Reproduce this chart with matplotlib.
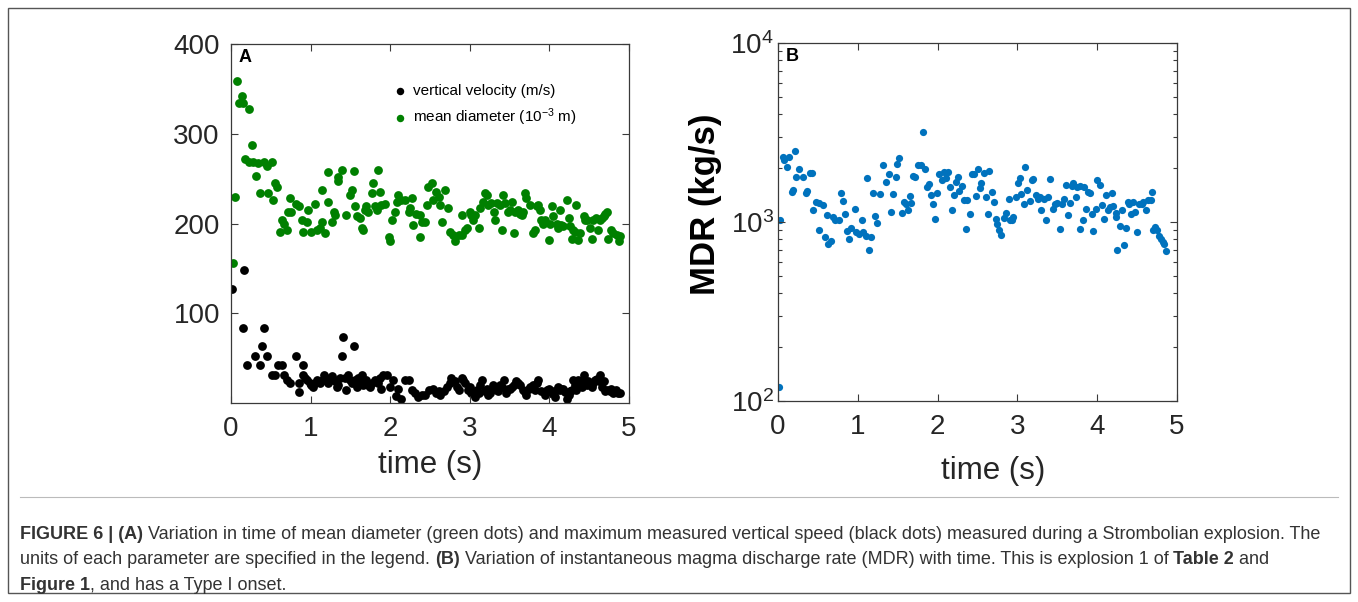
import matplotlib
matplotlib.use("Agg")
import matplotlib.pyplot as plt
from matplotlib import font_manager
from matplotlib.patches import Rectangle
from matplotlib.lines import Line2D

plt.rcParams['font.family'] = ['Liberation Sans', 'DejaVu Sans']
plt.rcParams['mathtext.default'] = 'regular'

# ---- panel A: mean diameter (green) ----
diam_t = [0.02, 0.05, 0.08, 0.10, 0.135, 0.15, 0.175, 0.22, 0.23, 0.26, 0.28, 0.315, 0.34, 0.36, 0.41,
          0.45, 0.47, 0.51, 0.53, 0.55, 0.58, 0.61, 0.64, 0.66, 0.70, 0.72, 0.74, 0.76, 0.82, 0.85,
          0.89, 0.91, 0.95, 0.97, 1.01, 1.06, 1.08, 1.12, 1.14, 1.14, 1.18, 1.216, 1.22, 1.27, 1.29,
          1.31, 1.34, 1.35, 1.39, 1.45, 1.49, 1.52, 1.54, 1.56, 1.58, 1.62, 1.64, 1.66, 1.68, 1.70,
          1.72, 1.77, 1.79, 1.81, 1.83, 1.85, 1.87, 1.89, 1.94, 1.98, 2.00, 2.02, 2.06, 2.08, 2.10,
          2.14, 2.19, 2.23, 2.25, 2.27, 2.29, 2.33, 2.37, 2.37, 2.40, 2.44, 2.46, 2.48, 2.52, 2.54,
          2.58, 2.61, 2.63, 2.65, 2.69, 2.73, 2.75, 2.79, 2.81, 2.86, 2.90, 2.90, 2.94, 2.96, 3.00,
          3.02, 3.04, 3.07, 3.11, 3.13, 3.17, 3.19, 3.21, 3.23, 3.27, 3.30, 3.32, 3.34, 3.38, 3.40,
          3.42, 3.44, 3.48, 3.51, 3.53, 3.55, 3.57, 3.61, 3.63, 3.65, 3.67, 3.69, 3.71, 3.76, 3.80,
          3.82, 3.84, 3.86, 3.88, 3.90, 3.92, 3.94, 3.99, 4.01, 4.03, 4.05, 4.09, 4.11, 4.13, 4.15,
          4.17, 4.22, 4.24, 4.26, 4.28, 4.30, 4.32, 4.34, 4.36, 4.38, 4.43, 4.45, 4.47, 4.51, 4.53,
          4.55, 4.59, 4.61, 4.64, 4.66, 4.68, 4.70, 4.72, 4.74, 4.78, 4.80, 4.85, 4.87, 4.89]
diam_v = [156, 229, 359, 334, 342, 334, 272, 269, 328, 287, 268, 253, 267, 234, 269,
          264, 234, 268, 226, 245, 241, 191, 204, 200, 193, 213, 228, 213, 222, 219,
          204, 190, 202, 215, 191, 222, 193, 195, 202, 237, 189, 257, 224, 202, 213,
          210, 247, 252, 260, 210, 232, 237, 258, 219, 208, 206, 195, 193, 215, 219,
          213, 234, 245, 219, 215, 260, 235, 221, 222, 185, 180, 204, 213, 224, 232,
          226, 226, 213, 217, 228, 198, 211, 210, 185, 202, 202, 221, 241, 245, 226,
          235, 230, 221, 202, 237, 217, 191, 187, 180, 187, 187, 210, 193, 195, 213,
          210, 204, 210, 195, 217, 224, 234, 232, 221, 223, 213, 204, 223, 221, 193,
          232, 223, 213, 215, 224, 189, 213, 215, 211, 210, 213, 234, 228, 221, 189,
          193, 219, 221, 215, 204, 200, 204, 182, 200, 219, 208, 200, 195, 215, 198,
          197, 226, 206, 197, 183, 193, 191, 221, 182, 189, 208, 204, 204, 195, 183,
          204, 206, 193, 204, 206, 208, 211, 213, 183, 193, 189, 187, 180, 186]

# ---- panel A: vertical velocity (black) ----
vel_t = [0.01, 0.155, 0.16, 0.205, 0.30, 0.365, 0.385, 0.41, 0.45, 0.51,
         0.55, 0.59, 0.64, 0.66, 0.70, 0.74, 0.82, 0.85, 0.86, 0.90,
         0.91, 0.93, 0.95, 0.99, 1.01, 1.03, 1.05, 1.08, 1.10, 1.12,
         1.15, 1.17, 1.20, 1.22, 1.24, 1.27, 1.29, 1.31, 1.33, 1.35,
         1.37, 1.40, 1.41, 1.43, 1.45, 1.47, 1.50, 1.52, 1.55, 1.56,
         1.58, 1.60, 1.62, 1.64, 1.66, 1.68, 1.70, 1.72, 1.75, 1.77,
         1.81, 1.83, 1.85, 1.87, 1.89, 1.91, 1.96, 2.00, 2.04, 2.07,
         2.10, 2.14, 2.19, 2.23, 2.27, 2.31, 2.35, 2.40, 2.44, 2.49,
         2.54, 2.58, 2.61, 2.63, 2.67, 2.71, 2.75, 2.77, 2.81, 2.84,
         2.86, 2.90, 2.92, 2.94, 2.98, 3.00, 3.02, 3.07, 3.09, 3.11,
         3.13, 3.15, 3.19, 3.21, 3.23, 3.25, 3.27, 3.29, 3.32, 3.34,
         3.36, 3.38, 3.40, 3.43, 3.46, 3.48, 3.51, 3.53, 3.55, 3.58,
         3.61, 3.63, 3.67, 3.69, 3.71, 3.74, 3.76, 3.79, 3.82, 3.84,
         3.86, 3.90, 3.94, 3.97, 3.99, 4.01, 4.03, 4.07, 4.09, 4.11,
         4.13, 4.15, 4.17, 4.19, 4.22, 4.24, 4.26, 4.28, 4.30, 4.32,
         4.34, 4.36, 4.38, 4.41, 4.43, 4.45, 4.47, 4.49, 4.53, 4.55,
         4.57, 4.60, 4.62, 4.64, 4.66, 4.68, 4.70, 4.72, 4.76, 4.78,
         4.80, 4.84, 4.86, 4.89]
vel_v = [127, 84, 148, 42, 52, 42, 64, 84, 52, 31,
         31, 42, 42, 31, 26, 22, 52, 22, 12, 31,
         42, 28, 26, 22, 20, 18, 22, 26, 24, 22,
         26, 31, 26, 22, 28, 30, 26, 24, 18, 20,
         28, 52, 74, 28, 15, 31, 26, 22, 64, 26,
         18, 28, 22, 31, 20, 24, 26, 20, 18, 22,
         26, 24, 22, 28, 16, 31, 31, 18, 26, 8,
         16, 5, 26, 26, 15, 11, 7, 9, 9, 14,
         16, 11, 13, 9, 13, 18, 22, 28, 24, 18,
         15, 28, 26, 22, 15, 18, 11, 7, 14, 11,
         20, 26, 13, 16, 9, 11, 15, 20, 18, 15,
         13, 20, 18, 26, 11, 16, 16, 18, 20, 24,
         22, 20, 15, 12, 9, 16, 18, 20, 15, 22,
         26, 13, 9, 14, 16, 11, 13, 7, 15, 18,
         15, 16, 16, 12, 5, 9, 13, 15, 26, 20,
         15, 26, 22, 18, 31, 24, 20, 24, 18, 22,
         26, 27, 24, 31, 18, 24, 13, 15, 13, 16,
         11, 14, 11, 11]

# ---- panel B: magma discharge rate (kg/s) ----
mdr_t = [0.01, 0.03, 0.06, 0.08, 0.11, 0.14, 0.17, 0.19, 0.21, 0.23, 0.26, 0.31, 0.35, 0.36, 0.40,
         0.42, 0.44, 0.47, 0.51, 0.52, 0.56, 0.59, 0.62, 0.63, 0.66, 0.69, 0.72, 0.77, 0.79, 0.82,
         0.84, 0.87, 0.89, 0.92, 0.96, 0.98, 1.02, 1.05, 1.07, 1.10, 1.12, 1.14, 1.17, 1.19, 1.22,
         1.24, 1.28, 1.32, 1.35, 1.39, 1.42, 1.44, 1.48, 1.49, 1.52, 1.55, 1.58, 1.61, 1.63, 1.65,
         1.67, 1.69, 1.72, 1.76, 1.79, 1.82, 1.84, 1.87, 1.89, 1.92, 1.94, 1.97, 1.99, 2.02, 2.05,
         2.08, 2.10, 2.13, 2.15, 2.18, 2.20, 2.23, 2.25, 2.27, 2.30, 2.33, 2.35, 2.37, 2.40, 2.43,
         2.45, 2.48, 2.51, 2.53, 2.55, 2.58, 2.61, 2.63, 2.65, 2.68, 2.71, 2.73, 2.75, 2.77, 2.80,
         2.83, 2.86, 2.89, 2.91, 2.93, 2.95, 2.98, 3.01, 3.03, 3.05, 3.08, 3.10, 3.12, 3.16, 3.18,
         3.20, 3.23, 3.26, 3.28, 3.30, 3.33, 3.36, 3.38, 3.41, 3.44, 3.47, 3.50, 3.53, 3.56, 3.58,
         3.61, 3.63, 3.66, 3.68, 3.70, 3.74, 3.75, 3.78, 3.79, 3.82, 3.83, 3.86, 3.89, 3.91, 3.93,
         3.95, 3.99, 4.00, 4.03, 4.06, 4.08, 4.11, 4.14, 4.16, 4.18, 4.20, 4.23, 4.24, 4.25, 4.28,
         4.31, 4.33, 4.36, 4.38, 4.40, 4.42, 4.45, 4.47, 4.50, 4.53, 4.56, 4.58, 4.61, 4.64, 4.67,
         4.69, 4.70, 4.73, 4.75, 4.77, 4.80, 4.82, 4.84, 4.86]
mdr_v = [119, 1022, 2312, 2217, 2032, 2296, 1472, 1506, 2500, 1787, 1990, 1787, 1443, 1490, 1882,
         1870, 1163, 1295, 898, 1278, 1241, 824, 1090, 757, 783, 1067, 1022, 1022, 1455, 1310,
         1106, 891, 807, 930, 1178, 879, 861, 1031, 879, 832, 1750, 694, 824, 1455, 1077,
         987, 1430, 2080, 1675, 1850, 1138, 1426, 1787, 2108, 2266, 1123, 1295, 1268, 1163, 1393,
         1278, 1803, 1787, 2080, 2080, 3191, 1966, 1571, 1626, 1412, 1268, 1045, 1443, 1850, 1713,
         1906, 1750, 1906, 1559, 1163, 1412, 1675, 1787, 1486, 1585, 1325, 916, 1325, 1106, 1866,
         1866, 1400, 1990, 1539, 1655, 1882, 1371, 1106, 1930, 1480, 1295, 1045, 978, 905, 841,
         1059, 1123, 1352, 1022, 1031, 1067, 1371, 1641, 1750, 1430, 1256, 2032, 1506, 1312, 1713,
         1745, 1412, 1352, 1381, 1174, 1352, 1022, 1371, 1745, 1189, 1256, 1278, 910, 1268, 1352,
         1607, 1090, 1278, 1585, 1655, 1381, 1571, 1585, 916, 1022, 1571, 1189, 1472, 1455, 1106,
         891, 1189, 1713, 1607, 1241, 1045, 1412, 1163, 1214, 1443, 1225, 1067, 1123, 700, 946,
         1174, 740, 930, 1295, 1256, 1114, 1295, 1138, 879, 1268, 1256, 1295, 1163, 1333, 1333,
         1480, 905, 937, 905, 832, 807, 773, 757, 689]

caption_lines = [
    [("FIGURE 6 | (A)", True),
     (" Variation in time of mean diameter (green dots) and maximum measured vertical speed "
      "(black dots) measured during a Strombolian explosion. The", False)],
    [("units of each parameter are specified in the legend. ", False), ("(B)", True),
     (" Variation of instantaneous magma discharge rate (MDR) with time. This is explosion 1 of ", False),
     ("Table 2", True), (" and", False)],
    [("Figure 1", True), (", and has a Type I onset.", False)],
]

W, H = 1358, 602
fig = plt.figure(figsize=(W / 100, H / 100), dpi=100)

tick_col = '#262626'


def style_axes(ax):
    for sp in ax.spines.values():
        sp.set_color('#3a3a3a')
        sp.set_linewidth(0.9)
    ax.tick_params(which='both', direction='in', top=True, right=True,
                   colors='#3a3a3a', labelcolor=tick_col, labelsize=20)
    ax.tick_params(which='major', length=5, width=0.8)
    ax.tick_params(which='minor', length=3, width=0.8)
    ax.tick_params(axis='x', pad=9)
    ax.tick_params(axis='y', pad=8)


# panel A
axA = fig.add_axes([231 / W, 1 - 403 / H, 398 / W, 359 / H])
axA.scatter(vel_t, vel_v, s=40, color='black', linewidths=0, label='vertical velocity (m/s)')
axA.scatter(diam_t, diam_v, s=40, color='#008000', linewidths=0, label='mean diameter (10$^{-3}$ m)')
axA.set_xlim(0, 5)
axA.set_ylim(0, 400)
axA.set_xticks([0, 1, 2, 3, 4, 5])
axA.set_yticks([100, 200, 300, 400])
axA.set_xlabel('time (s)', fontsize=22.5, color=tick_col, labelpad=6)
style_axes(axA)
axA.text(0.018, 0.985, 'A', transform=axA.transAxes, fontsize=13, fontweight='bold', va='top')
axA.legend(loc='upper left', bbox_to_anchor=(0.374, 0.926), frameon=False, fontsize=11,
           handlelength=0.8, handletextpad=0.45, labelspacing=0.5, markerscale=0.85)

# panel B
axB = fig.add_axes([778 / W, 1 - 401 / H, 399 / W, 358 / H])
axB.scatter(mdr_t, mdr_v, s=27, color='#0072BD', linewidths=0)
axB.set_yscale('log')
axB.set_xlim(0, 5)
axB.set_ylim(100, 10000)
axB.set_xticks([0, 1, 2, 3, 4, 5])
axB.set_yticks([100, 1000, 10000])
axB.set_yticklabels(['$10^2$', '$10^3$', '$10^4$'])
axB.set_xlabel('time (s)', fontsize=22.5, color=tick_col, labelpad=12)
axB.xaxis.label.set_x(0.539)
axB.set_ylabel('MDR (kg/s)', fontsize=25, fontweight='bold', color='black')
axB.yaxis.set_label_coords(-0.14, 0.55)
style_axes(axB)
axB.tick_params(axis='y', pad=3)
axB.text(0.02, 0.985, 'B', transform=axB.transAxes, fontsize=13, fontweight='bold', va='top')

# outer frame and caption divider
fig.patches.append(Rectangle((8 / W, 1 - 593 / H), 1342 / W, 585 / H, transform=fig.transFigure,
                             fill=False, edgecolor='#555555', linewidth=1.0))
fig.lines.append(Line2D([20 / W, 1338 / W], [1 - 497 / H, 1 - 497 / H], transform=fig.transFigure,
                        color='#bbbbbb', linewidth=0.8))

# caption, drawn piece by piece so bold parts sit inline
names = {f.name for f in font_manager.fontManager.ttflist}
cap_family = 'Liberation Sans Narrow' if 'Liberation Sans Narrow' in names else 'Liberation Sans'
renderer = fig.canvas.get_renderer()


def line_width(pieces, size):
    total = 0
    for s, bold in pieces:
        t = fig.text(0, 0, s, family=cap_family, fontsize=size,
                     fontweight='bold' if bold else 'normal')
        total += t.get_window_extent(renderer).width
        t.remove()
    return total


cap_size = 11.5 * 1305 / line_width(caption_lines[0], 11.5)
for row, pieces in enumerate(caption_lines):
    x = 20
    y = 539 + row * 25.5
    for s, bold in pieces:
        t = fig.text(x / W, 1 - y / H, s, family=cap_family, fontsize=cap_size,
                     fontweight='bold' if bold else 'normal', color='#333333', va='baseline')
        x += t.get_window_extent(renderer).width

fig.savefig('out.png', dpi=100)
